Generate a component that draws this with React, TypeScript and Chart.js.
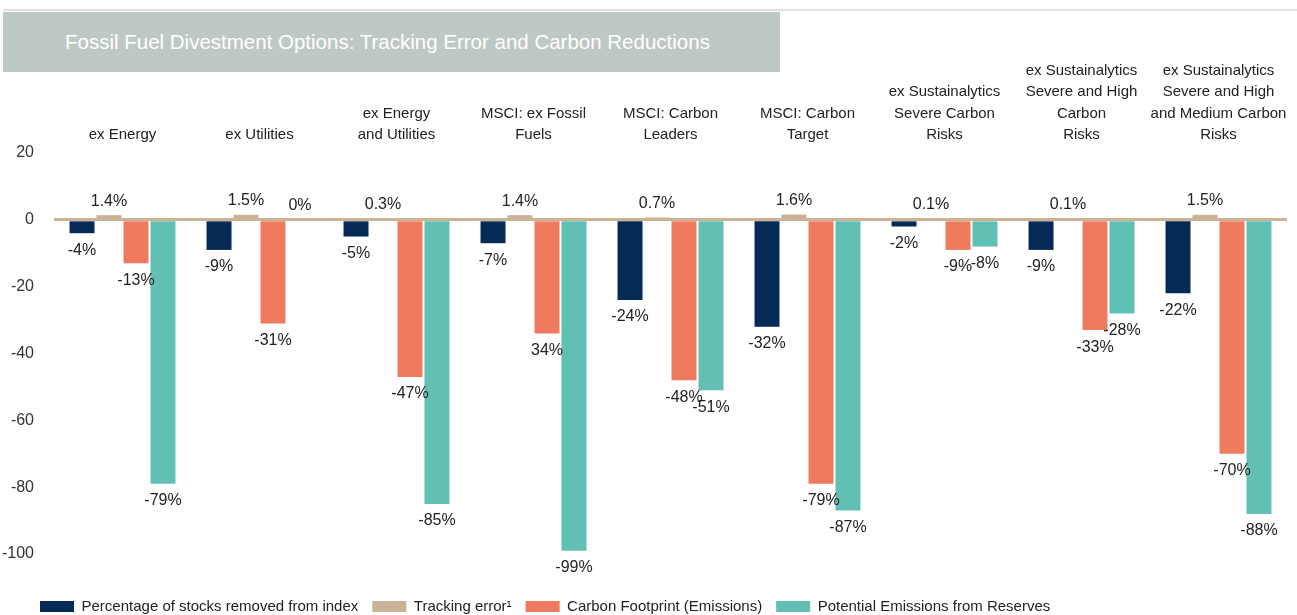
import React, { useEffect, useRef } from "react";
import { Chart, registerables } from "chart.js";

Chart.register(...registerables);

const categories: (string | string[])[] = [
  "ex Energy",
  "ex Utilities",
  ["ex Energy", "and Utilities"],
  ["MSCI: ex Fossil", "Fuels"],
  ["MSCI: Carbon", "Leaders"],
  ["MSCI: Carbon", "Target"],
  ["ex Sustainalytics", "Severe Carbon", "Risks"],
  ["ex Sustainalytics", "Severe and High", "Carbon", "Risks"],
  ["ex Sustainalytics", "Severe and High", "and Medium Carbon", "Risks"],
];

const stocksRemoved = [-4, -9, -5, -7, -24, -32, -2, -9, -22];
const trackingError = [1.4, 1.5, 0.3, 1.4, 0.7, 1.6, 0.1, 0.1, 1.5];
const carbonFootprint = [-13, -31, -47, -34, -48, -79, -9, -33, -70];
const reserves = [-79, 0, -85, -99, -51, -87, -8, -28, -88];

const stocksRemovedLabels = ["-4%", "-9%", "-5%", "-7%", "-24%", "-32%", "-2%", "-9%", "-22%"];
const trackingErrorLabels = ["1.4%", "1.5%", "0.3%", "1.4%", "0.7%", "1.6%", "0.1%", "0.1%", "1.5%"];
const carbonFootprintLabels = ["-13%", "-31%", "-47%", "34%", "-48%", "-79%", "-9%", "-33%", "-70%"];
const reservesLabels = ["-79%", "0%", "-85%", "-99%", "-51%", "-87%", "-8%", "-28%", "-88%"];

const yTicks = [20, 0, -20, -40, -60, -80, -100];

const seriesNames = [
  "Percentage of stocks removed from index",
  "Tracking error\u00B9",
  "Carbon Footprint (Emissions)",
  "Potential Emissions from Reserves",
];

const NAVY = "#052a56";
const TAN = "#ccb294";
const ORANGE = "#ef7a5d";
const TEAL = "#62bfb3";
const FONT = '"Liberation Sans", Arial, sans-serif';
const TEXT = "#222222";

const allLabels = [stocksRemovedLabels, trackingErrorLabels, carbonFootprintLabels, reservesLabels];

const valueLabelPlugin = {
  id: "valueLabels",
  afterLayout(chart: any) {
    if (chart.legend) {
      chart.legend.left = 26;
    }
  },
  afterDatasetsDraw(chart: any) {
    const ctx = chart.ctx;
    ctx.save();
    ctx.font = `16px ${FONT}`;
    ctx.fillStyle = TEXT;
    ctx.textAlign = "center";
    ctx.textBaseline = "middle";
    chart.data.datasets.forEach((ds: any, di: number) => {
      const meta = chart.getDatasetMeta(di);
      meta.data.forEach((el: any, i: number) => {
        const v = ds.data[i];
        const p = el.getProps(["x", "y", "base"], true);
        const txt = allLabels[di][i];
        if (v < 0) {
          ctx.fillText(txt, p.x, p.y + 17);
        } else {
          ctx.fillText(txt, p.x, Math.min(p.y, p.base) - 14);
        }
      });
    });
    ctx.restore();
  },
};

export default function App() {
  const ref = useRef<HTMLCanvasElement | null>(null);
  useEffect(() => {
    document.body.style.margin = "0";
    if (!ref.current) return;
    const chart = new Chart(ref.current, {
      type: "bar",
      data: {
        labels: categories,
        datasets: [
          { label: seriesNames[0], data: stocksRemoved, backgroundColor: NAVY },
          { label: seriesNames[1], data: trackingError, backgroundColor: TAN },
          { label: seriesNames[2], data: carbonFootprint, backgroundColor: ORANGE },
          { label: seriesNames[3], data: reserves, backgroundColor: TEAL },
        ],
      },
      options: {
        animation: false,
        responsive: false,
        devicePixelRatio: 1,
        datasets: { bar: { categoryPercentage: 0.788, barPercentage: 0.926 } },
        layout: { padding: { top: 53, left: 0, right: 10, bottom: -9 } },
        plugins: {
          tooltip: { enabled: false },
          legend: {
            position: "bottom",
            align: "start",
            title: { display: true, text: " ", font: { size: 10 }, padding: { top: 19, bottom: 0 } },
            labels: {
              boxWidth: 34,
              boxHeight: 11,
              padding: 14,
              color: TEXT,
              font: { family: FONT, size: 15 },
            },
          },
        },
        scales: {
          x: {
            position: "top",
            grid: { display: false, drawTicks: false },
            border: { display: false },
            ticks: {
              autoSkip: false,
              maxRotation: 0,
              minRotation: 0,
              padding: 7,
              color: TEXT,
              font: { family: FONT, size: 15, lineHeight: "21.5px" },
            },
          },
          y: {
            min: yTicks[yTicks.length - 1],
            max: yTicks[0],
            afterFit: (s: any) => {
              s.width = 54;
            },
            afterBuildTicks: (s: any) => {
              s.ticks = yTicks.map((v) => ({ value: v }));
            },
            grid: {
              color: (c: any) => (c.tick && c.tick.value === 0 ? TAN : "rgba(0,0,0,0)"),
              lineWidth: 3,
              drawTicks: false,
            },
            border: { display: false },
            ticks: {
              padding: 20,
              color: "#333333",
              font: { family: FONT, size: 16 },
            },
          },
        },
      },
      plugins: [valueLabelPlugin],
    });
    return () => chart.destroy();
  }, []);

  return (
    <div style={{ position: "relative", width: 1297, height: 615, background: "#ffffff" }}>
      <canvas ref={ref} width={1297} height={615} style={{ position: "absolute", left: 0, top: 0 }} />
      <div
        style={{ position: "absolute", left: 3, top: 9, width: 1294, height: 2, background: "#dde1df" }}
      />
      <div
        style={{
          position: "absolute",
          left: 3,
          top: 12,
          width: 777,
          height: 60,
          background: "#bec8c4",
          color: "#ffffff",
          fontFamily: FONT,
          fontSize: 20.5,
          lineHeight: "60px",
          paddingLeft: 62,
          boxSizing: "border-box",
          whiteSpace: "nowrap",
        }}
      >
        Fossil Fuel Divestment Options: Tracking Error and Carbon Reductions
      </div>
    </div>
  );
}
